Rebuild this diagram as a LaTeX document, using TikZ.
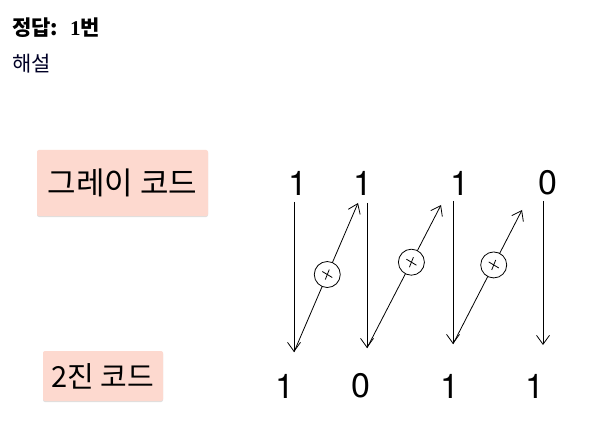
\documentclass[tikz,border=0pt]{standalone}
\usepackage{fontspec}
\setmainfont{TeX Gyre Heros}
\newfontfamily\kr{Noto Sans CJK KR}
\newfontfamily\serifnum{Liberation Serif}
\usetikzlibrary{arrows.meta,shadows,calc}
\definecolor{boxfill}{HTML}{FDD9CF}
\tikzset{
  codebox/.style={fill=boxfill, rounded corners=2pt, inner sep=0pt, drop shadow={shadow xshift=0pt, shadow yshift=-1pt, opacity=0.25}},
  digit/.style={font=\fontsize{34}{40}\selectfont, inner sep=0pt},
  arr/.style={line width=0.8pt, -{Straight Barb[length=9pt,width=13pt,line width=0.8pt]}},
  xorc/.style={circle, draw, line width=0.8pt, fill=white, minimum size=26pt, inner sep=0pt},
  xmark/.style={line width=0.8pt}
}
\begin{document}
\begin{tikzpicture}[x=1pt,y=-1pt]
\useasboundingbox (0,0) rectangle (612,446);
\fill[white] (0,0) rectangle (612,446);
\node[anchor=west, inner sep=0pt] (ans) at (12,28) {\kr\bfseries\fontsize{21}{24}\selectfont 정답:\hspace{12pt}{\serifnum\bfseries 1}번};
\node[anchor=west, inner sep=0pt, text=black!85!blue] (expl) at (12,64) {\kr\fontsize{21}{24}\selectfont 해설};
% boxes
\node[codebox, minimum width=171pt, minimum height=66pt] (gray) at (122.5,183) {\kr\fontsize{31}{36}\selectfont 그레이 코드};
\node[codebox, minimum width=120pt, minimum height=50pt] (bin) at (103,376) {\kr\fontsize{29}{34}\selectfont 2진 코드};
% digits
\node[digit] (g1) at (298,183) {1};
\node[digit] (g2) at (363,183) {1};
\node[digit] (g3) at (460,183) {1};
\node[digit] (g4) at (548,183) {0};
\node[digit] (b1) at (285,386) {1};
\node[digit] (b2) at (361,386) {0};
\node[digit] (b3) at (450,386) {1};
\node[digit] (b4) at (535,386) {1};
% down arrows
\coordinate (t1) at (294,202); \coordinate (d1) at (294,352);
\coordinate (t2) at (367,203); \coordinate (d2) at (367,348);
\coordinate (t3) at (453,201); \coordinate (d3) at (453,344);
\coordinate (t4) at (543,201); \coordinate (d4) at (543,345);
\draw[arr] (t1) -- (d1);
\draw[arr] (t2) -- (d2);
\draw[arr] (t3) -- (d3);
\draw[arr] (t4) -- (d4);
% diagonal arrows
\coordinate (u1) at (358,203);
\coordinate (u2) at (441,205);
\coordinate (u3) at (522,210);
\draw[arr] (d1) -- (u1);
\draw[arr] (d2) -- (u2);
\draw[arr] (d3) -- (u3);
% xor circles
\node[xorc] (x1) at ($(d1)!0.52!(u1)$) {};
\node[xorc] (x2) at ($(d2)!0.60!(u2)$) {};
\node[xorc] (x3) at ($(d3)!0.59!(u3)$) {};
\foreach \n in {x1,x2,x3}{
  \draw[xmark] ($(\n)+(-5,-3)$) -- ($(\n)+(5,3)$);
  \draw[xmark] ($(\n)+(-2,5)$) -- ($(\n)+(2,-5)$);
}
\end{tikzpicture}
\end{document}
